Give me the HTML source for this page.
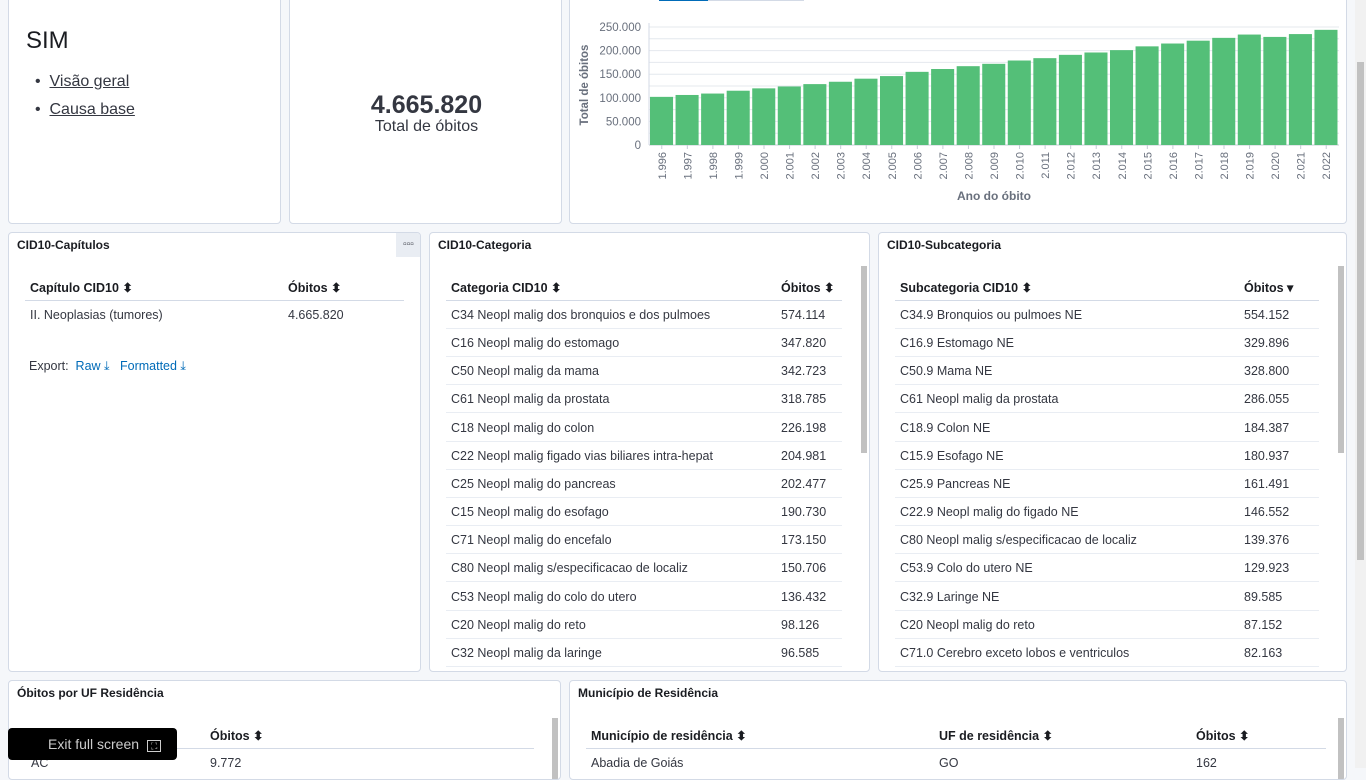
<!DOCTYPE html>
<html><head><meta charset="utf-8"><style>
*{box-sizing:border-box;margin:0;padding:0}
body{width:1366px;height:768px;overflow:hidden;background:#f5f7fa;font-family:"Liberation Sans",sans-serif;color:#343741;position:relative}
.p{position:absolute;background:#fff;border:1px solid #d3dae6;border-radius:4px;overflow:hidden}
.t{position:absolute;font-size:12px;font-weight:bold;color:#1a1c21}
.a{position:absolute;white-space:nowrap}
.hd{font-size:12.5px;font-weight:bold;color:#1a1c21}
.c{font-size:12.5px;color:#343741}
.ln{position:absolute;height:1px;background:#d3dae6}
.sb{position:absolute;width:6px;background:#c1c1c1}
</style></head><body>
<div class="p" style="left:8px;top:-4px;width:273px;height:228px">
 <div class="a" style="left:17px;top:30px;font-size:24px;color:#1a1c21">SIM</div>
 <div class="a" style="left:26px;top:76px;font-size:16px">• &nbsp;<u>Visão geral</u></div>
 <div class="a" style="left:26px;top:104px;font-size:16px">• &nbsp;<u>Causa base</u></div>
</div>
<div class="p" style="left:289px;top:-4px;width:273px;height:228px">
 <div class="a" style="left:0;width:273px;text-align:center;top:94px;font-size:25px;font-weight:bold;color:#343741">4.665.820</div>
 <div class="a" style="left:0;width:273px;text-align:center;top:121px;font-size:16px">Total de óbitos</div>
</div>
<div class="p" style="left:569px;top:-4px;width:778px;height:228px">
 <div class="a" style="left:89px;top:0;width:49px;height:4px;background:#006bb8"></div>
 <div class="a" style="left:138px;top:3px;width:96px;height:1px;background:#d3dae6"></div>
</div>
<svg id="chart" style="position:absolute;left:0;top:0" width="1366" height="230"></svg>

<div class="p" style="left:8px;top:232px;width:413px;height:440px">
 <div class="t" style="left:8px;top:5px">CID10-Capítulos</div>
 <div class="a" style="left:387px;top:0;width:25px;height:24px;background:#e9edf3;font-size:10px;text-align:center;line-height:24px">▫▫▫</div>
 <div class="a hd" style="left:21px;top:47px">Capítulo CID10 ⬍</div>
 <div class="a hd" style="left:279px;top:47px">Óbitos ⬍</div>
 <div class="ln" style="left:16px;top:67px;width:379px"></div>
 <div class="a c" style="left:21px;top:75px">II. Neoplasias (tumores)</div>
 <div class="a c" style="left:279px;top:75px">4.665.820</div>
 <div class="a c" style="left:20px;top:126px">Export: &nbsp;<span style="color:#006bb8">Raw ⤓</span> &nbsp;&nbsp;<span style="color:#006bb8">Formatted ⤓</span></div>
</div>
<div class="p" id="cat" style="left:429px;top:232px;width:441px;height:440px">
 <div class="t" style="left:8px;top:5px">CID10-Categoria</div>
 <div class="a hd" style="left:21px;top:47px">Categoria CID10 ⬍</div>
 <div class="a hd" style="left:351px;top:47px">Óbitos ⬍</div>
 <div class="ln" style="left:16px;top:67px;width:396px"></div>
 <div class="sb" style="left:431px;top:33px;height:187px"></div>
</div>
<div class="p" id="sub" style="left:878px;top:232px;width:469px;height:440px">
 <div class="t" style="left:8px;top:5px">CID10-Subcategoria</div>
 <div class="a hd" style="left:21px;top:47px">Subcategoria CID10 ⬍</div>
 <div class="a hd" style="left:365px;top:47px">Óbitos ▾</div>
 <div class="ln" style="left:16px;top:67px;width:424px"></div>
 <div class="sb" style="left:459px;top:33px;height:187px"></div>
</div>
<div class="p" style="left:8px;top:680px;width:553px;height:100px">
 <div class="t" style="left:8px;top:5px">Óbitos por UF Residência</div>
 <div class="a hd" style="left:201px;top:47px">Óbitos ⬍</div>
 <div class="ln" style="left:17px;top:67px;width:508px"></div>
 <div class="a c" style="left:22px;top:75px">AC</div>
 <div class="a c" style="left:201px;top:75px">9.772</div>
 <div class="sb" style="left:543px;top:37px;height:70px"></div>
</div>
<div class="p" style="left:569px;top:680px;width:778px;height:100px">
 <div class="t" style="left:8px;top:5px">Município de Residência</div>
 <div class="a hd" style="left:21px;top:47px">Município de residência ⬍</div>
 <div class="a hd" style="left:369px;top:47px">UF de residência ⬍</div>
 <div class="a hd" style="left:626px;top:47px">Óbitos ⬍</div>
 <div class="ln" style="left:16px;top:67px;width:740px"></div>
 <div class="a c" style="left:21px;top:75px">Abadia de Goiás</div>
 <div class="a c" style="left:369px;top:75px">GO</div>
 <div class="a c" style="left:626px;top:75px">162</div>
 <div class="sb" style="left:768px;top:37px;height:70px"></div>
</div>
<div class="a" style="left:8px;top:728px;width:169px;height:32px;background:#000;border-radius:4px;color:#ccc;font-size:14px;line-height:32px;padding-left:40px">Exit full screen <span style="border:1px solid #ccc;font-size:9px;padding:0 3px;margin-left:4px">⛶</span></div>
<div class="a" style="left:1355px;top:0;width:11px;height:768px;background:#f1f1f1"><div style="position:absolute;left:2px;top:62px;width:7px;height:498px;background:#c1c1c1"></div></div>
<script>
const years=["1.996","1.997","1.998","1.999","2.000","2.001","2.002","2.003","2.004","2.005","2.006","2.007","2.008","2.009","2.010","2.011","2.012","2.013","2.014","2.015","2.016","2.017","2.018","2.019","2.020","2.021","2.022"];
const deaths=[102000,106000,109000,115000,120000,124000,129000,134000,140500,146000,155000,161000,167000,172000,179000,184000,191000,196000,201000,209000,215000,221000,227000,234000,229000,235000,244000];
const yTicks=[0,50000,100000,150000,200000,250000];
const yTickLabels=["0","50.000","100.000","150.000","200.000","250.000"];
const catNames=["C34 Neopl malig dos bronquios e dos pulmoes","C16 Neopl malig do estomago","C50 Neopl malig da mama","C61 Neopl malig da prostata","C18 Neopl malig do colon","C22 Neopl malig figado vias biliares intra-hepat","C25 Neopl malig do pancreas","C15 Neopl malig do esofago","C71 Neopl malig do encefalo","C80 Neopl malig s/especificacao de localiz","C53 Neopl malig do colo do utero","C20 Neopl malig do reto","C32 Neopl malig da laringe"];
const catValues=["574.114","347.820","342.723","318.785","226.198","204.981","202.477","190.730","173.150","150.706","136.432","98.126","96.585"];
const subNames=["C34.9 Bronquios ou pulmoes NE","C16.9 Estomago NE","C50.9 Mama NE","C61 Neopl malig da prostata","C18.9 Colon NE","C15.9 Esofago NE","C25.9 Pancreas NE","C22.9 Neopl malig do figado NE","C80 Neopl malig s/especificacao de localiz","C53.9 Colo do utero NE","C32.9 Laringe NE","C20 Neopl malig do reto","C71.0 Cerebro exceto lobos e ventriculos"];
const subValues=["554.152","329.896","328.800","286.055","184.387","180.937","161.491","146.552","139.376","129.923","89.585","87.152","82.163"];
const NS="http://www.w3.org/2000/svg";
const svg=document.getElementById('chart');
const x0=649,x1=1339,yb=145,yt=27,ymax=250000;
const band=(x1-x0)/years.length;
const yS=v=>yb-(v/ymax)*(yb-yt);
const xS=i=>x0+i*band;
function mk(t,a){const e=document.createElementNS(NS,t);for(const k in a)e.setAttribute(k,a[k]);svg.appendChild(e);return e;}
for(let v=0;v<=ymax;v+=25000){const g=mk('line',{x1:x0,x2:x1,y1:yS(v),y2:yS(v),stroke:'#e4e8ee','stroke-width':1});

}
mk('line',{x1:x0,x2:x0,y1:yt-4,y2:yb,stroke:'#d3dae6'});
mk('line',{x1:x0,x2:x1,y1:yb,y2:yb,stroke:'#c5ccd6'});
yTicks.forEach((v,i)=>{const t=mk('text',{x:641,y:yS(v)+4,'text-anchor':'end','font-size':11.5,fill:'#69707d','font-family':'Liberation Sans'});t.textContent=yTickLabels[i];

});
deaths.forEach((v,i)=>{const r=mk('rect',{x:xS(i)+1,y:yS(v),width:band-2.5,height:yb-yS(v),fill:'#54bf78'});


const cx=xS(i)+band/2+4;
mk('line',{x1:cx-4,x2:cx-4,y1:yb,y2:yb+4,stroke:'#c5ccd6'});
const t=mk('text',{x:cx,y:152,'text-anchor':'end','font-size':11,fill:'#69707d','font-family':'Liberation Sans',transform:`rotate(-90 ${cx} 152)`});t.textContent=years[i];

});
const yl=mk('text',{x:588,y:85,'text-anchor':'middle','font-size':11.5,'font-weight':'bold',fill:'#69707d','font-family':'Liberation Sans',transform:'rotate(-90 588 85)'});yl.textContent='Total de óbitos';


const xl=mk('text',{x:994,y:200,'text-anchor':'middle','font-size':12,'font-weight':'bold',fill:'#69707d','font-family':'Liberation Sans'});xl.textContent='Ano do óbito';


function rows(id,names,vals,vx,w){const p=document.getElementById(id);
names.forEach((n,i)=>{const top=75+i*28.15;
const a=document.createElement('div');a.className='a c';a.style.left='21px';a.style.top=top+'px';a.textContent=n;


p.appendChild(a);
const b=document.createElement('div');b.className='a c';b.style.left=vx+'px';b.style.top=top+'px';b.textContent=vals[i];


p.appendChild(b);
const l=document.createElement('div');l.className='ln';l.style.left='16px';l.style.width=w+'px';l.style.top=(top+20)+'px';l.style.background='#e9edf3';p.appendChild(l);});}
rows('cat',catNames,catValues,351,396);
rows('sub',subNames,subValues,365,424);
</script>
</body></html>
